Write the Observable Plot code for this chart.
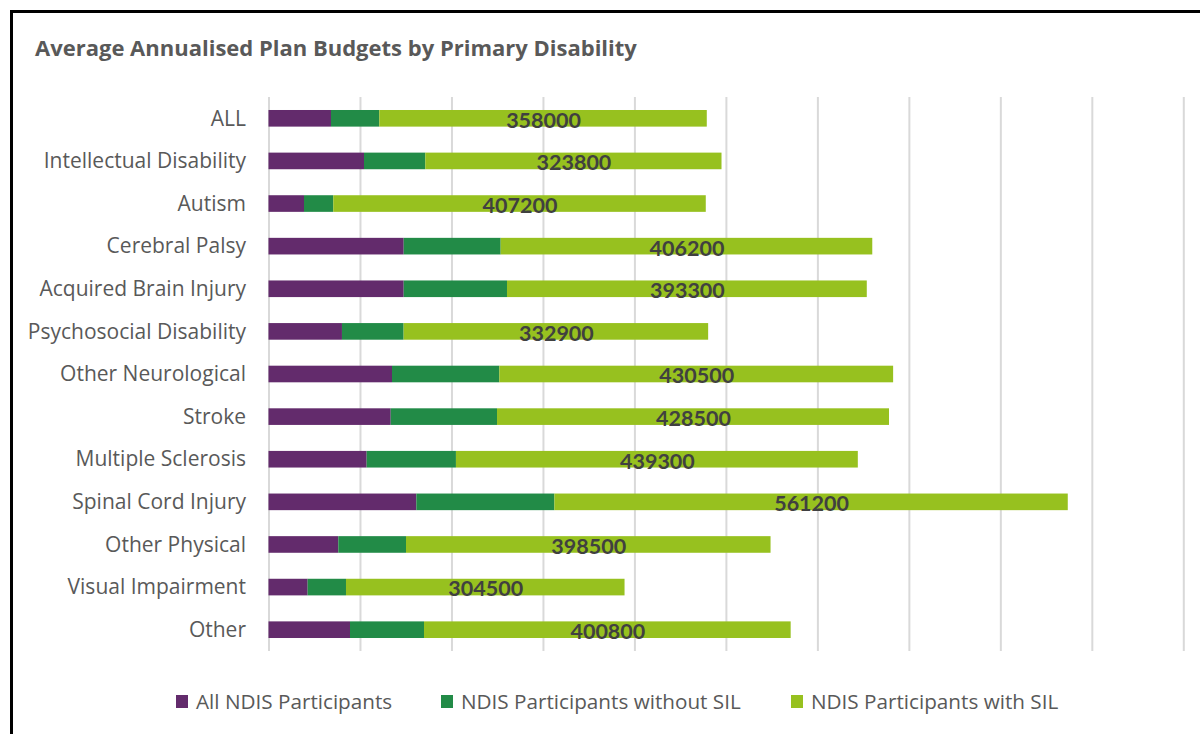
<!DOCTYPE html>
<html>
<head>
<meta charset="utf-8">
<script src="https://cdn.jsdelivr.net/npm/d3@7"></script>
<script src="https://cdn.jsdelivr.net/npm/@observablehq/plot@0.6"></script>
<style>
  html, body { margin: 0; padding: 0; background: #fff; width: 1200px; height: 734px; overflow: hidden; }
  body { position: relative; font-family: "Open Sans", Lato, sans-serif; }
  #frame { position: absolute; left: 10px; top: 10px; width: 1260px; height: 800px; border: 3px solid #000; box-sizing: border-box; }
  #title { position: absolute; left: 35px; top: 32px; font-size: 22px; font-weight: bold; color: #595959; white-space: nowrap; }
  #chart { position: absolute; left: 0; top: 90px; }
  .leg { position: absolute; top: 687px; font-size: 20.7px; color: #595959; white-space: nowrap; display: flex; align-items: center; }
  .leg span.sw { display: inline-block; width: 12px; height: 13px; margin-right: 8px; }
</style>
</head>
<body>
<div id="frame"></div>
<div id="title">Average Annualised Plan Budgets by Primary Disability</div>
<div id="chart"></div>
<div id="legend"></div>
<script>
const categories = ["ALL", "Intellectual Disability", "Autism", "Cerebral Palsy", "Acquired Brain Injury", "Psychosocial Disability", "Other Neurological", "Stroke", "Multiple Sclerosis", "Spinal Cord Injury", "Other Physical", "Visual Impairment", "Other"];
const allParticipants = [68300, 104400, 38800, 147800, 147800, 80300, 135000, 133600, 107300, 161600, 76300, 42800, 89100];
const withoutSIL = [52800, 67000, 32000, 106000, 112900, 67400, 117300, 116200, 97600, 150900, 74000, 41900, 80900];
const withSIL = [358000, 323800, 407200, 406200, 393300, 332900, 430500, 428500, 439300, 561200, 398500, 304500, 400800];
const seriesNames = ["All NDIS Participants", "NDIS Participants without SIL", "NDIS Participants with SIL"];
const seriesColors = ["#632B6C", "#228B47", "#97C11F"];
const xTicks = [0, 100000, 200000, 300000, 400000, 500000, 600000, 700000, 800000, 900000, 1000000];

const seriesValues = [allParticipants, withoutSIL, withSIL];
const rows = [];
categories.forEach((c, i) => {
  seriesNames.forEach((s, j) => rows.push({cat: c, series: s, value: seriesValues[j][i]}));
});
const labels = categories.map((c, i) => ({cat: c, a: allParticipants[i], b: withoutSIL[i], s: withSIL[i]}));

const plot = Plot.plot({
  width: 1200,
  height: 580,
  marginTop: 7,
  marginBottom: 19,
  marginLeft: 268.5,
  marginRight: 16.7,
  style: {fontFamily: "'Open Sans', Lato, sans-serif", background: "transparent"},
  x: {domain: [0, 1000000], axis: null},
  y: {domain: categories, paddingInner: 0.61, paddingOuter: 0.305, round: false, label: null},
  color: {domain: seriesNames, range: seriesColors},
  marks: [
    Plot.gridX(xTicks, {stroke: "#d9d9d9", strokeOpacity: 1, strokeWidth: 2}),
    Plot.barX(rows, {y: "cat", x: "value", fill: "series", order: null}),
    Plot.text(labels, {y: "cat", x: d => d.a + d.b + d.s / 2, text: d => String(d.s), fontSize: 21.5, fontWeight: "bold", fontFamily: "Lato, sans-serif", fill: "#404040", dy: 2}),
    Plot.axisY({tickSize: 0, tickPadding: 23, fontSize: 21, fill: "#595959", label: null})
  ]
});
document.getElementById("chart").appendChild(plot);

const legendLeft = [176, 441, 791];
const legend = document.getElementById("legend");
seriesNames.forEach((s, j) => {
  const d = document.createElement("div");
  d.className = "leg";
  d.style.left = legendLeft[j] + "px";
  d.innerHTML = `<span class="sw" style="background:${seriesColors[j]}"></span>${s}`;
  legend.appendChild(d);
});
</script>
</body>
</html>
